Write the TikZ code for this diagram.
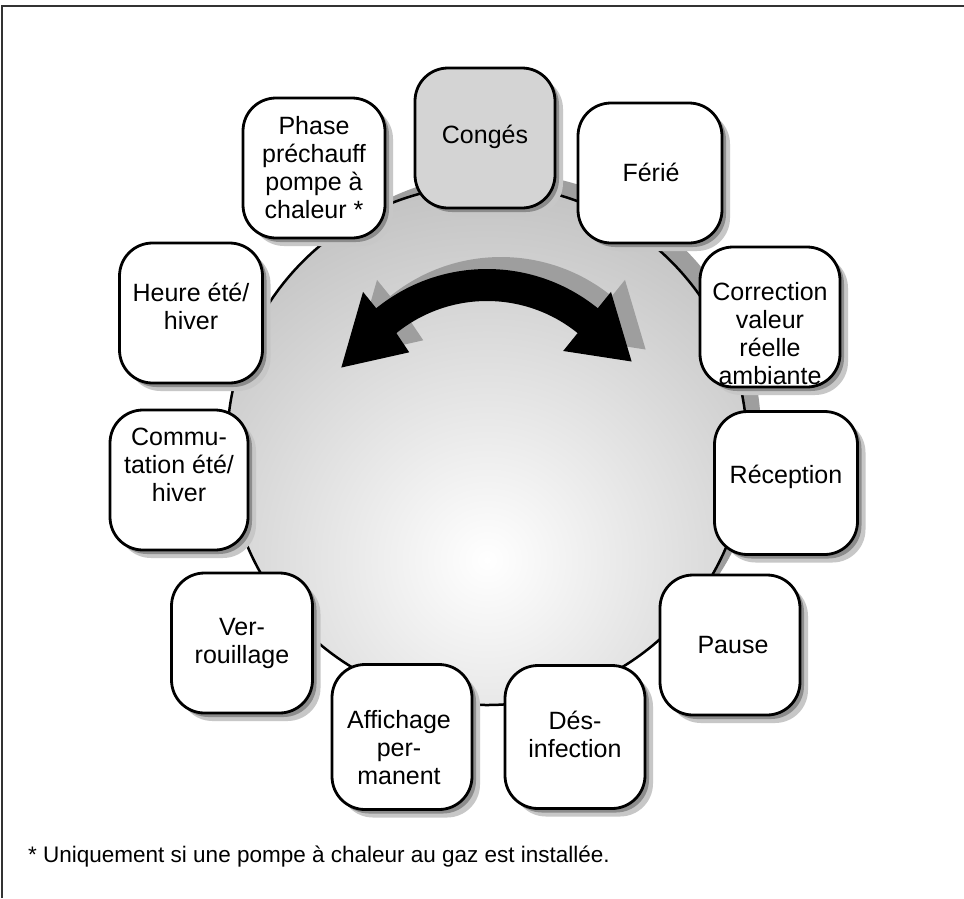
\documentclass[tikz,border=0pt]{standalone}
\usepackage{fontspec}
\setmainfont{Liberation Sans}
\usetikzlibrary{shadows}
\begin{document}
\begin{tikzpicture}[x=1pt,y=-1pt,
  box/.style={draw=black, line width=2.8pt, rounded corners=33pt, fill=white,
    inner sep=0pt, minimum width=140pt, minimum height=140pt,
    general shadow={fill=black!22, shadow xshift=8pt, shadow yshift=-8pt},
    general shadow={fill=black!45, shadow xshift=4pt, shadow yshift=-4pt}},
  graybox/.style={box, fill=black!17},
  lbl/.style={align=center, font=\fontsize{25}{28}\selectfont, inner sep=0pt},
  note/.style={font=\fontsize{22.5}{26}\selectfont, inner sep=0pt, anchor=base west},
]
\useasboundingbox (0,0) rectangle (964,898);
\fill[white] (0,0) rectangle (964,898);
\draw[line width=2pt, black!80] (2,898) -- (2,6) -- (964,6);

% circle shadow
\fill[black!38] (501,433) circle (260);
% circle with shading
\begin{scope}
  \clip (487,445) circle (260);
  \shade[inner color=white, outer color=black!25] (487,560) circle (400);
\end{scope}
\draw[line width=2.5pt] (487,445) circle (260);

% curved double arrow (shadow, then arrow)
\begin{scope}[shift={(501,433)}]
  \fill[black!38] (-129:144) -- (-130:121) -- (-152:165) -- (-129:197) -- (-129:176)
    arc[start angle=-129, end angle=-51, radius=176] -- (-51:197) -- (-30:167)
    -- (-51:121) -- (-51:144) arc[start angle=-51, end angle=-129, radius=144] -- cycle;
\end{scope}
\begin{scope}[shift={(487,445)}]
  \fill[black] (-129:144) -- (-130:121) -- (-152:165) -- (-129:197) -- (-129:176)
    arc[start angle=-129, end angle=-51, radius=176] -- (-51:197) -- (-30:167)
    -- (-51:121) -- (-51:144) arc[start angle=-51, end angle=-129, radius=144] -- cycle;
\end{scope}

% boxes
\node[graybox] (conges) at (485,138) {};
\node[box, minimum width=144pt] (ferie) at (650,173) {};
\node[box, minimum width=142pt] (phase) at (314,168) {};
\node[box, minimum width=143pt] (heure) at (191,313) {};
\node[box, minimum width=138pt] (commut) at (179,480) {};
\node[box] (correc) at (770,317) {};
\node[box, minimum width=143pt, minimum height=143pt] (recep) at (786,483) {};
\node[box, minimum width=141pt] (verr) at (242,643) {};
\node[box] (pause) at (730,645) {};
\node[box, minimum height=145pt] (affich) at (402,737) {};
\node[box, minimum height=143pt] (desinf) at (575,737) {};

% labels
\node[lbl] (tconges) at (485,137) {Congés};
\node[lbl] (tferie) at (651,172) {Férié};
\node[lbl] (tphase) at (314,168) {Phase\\préchauff\\pompe à\\chaleur *};
\node[lbl] (theure) at (191,306) {Heure été/\\hiver};
\node[lbl] (tcommut) at (179,465) {Commu-\\tation été/\\hiver};
\node[lbl] (tcorrec) at (770,334) {Correction\\valeur\\réelle\\ambiante};
\node[lbl] (trecep) at (786,477) {Réception};
\node[lbl] (tverr) at (242,643) {Ver-\\rouillage};
\node[lbl] (tpause) at (733,645) {Pause};
\node[lbl] (taffich) at (399,748) {Affichage\\per-\\manent};
\node[lbl] (tdesinf) at (575,734) {Dés-\\infection};

% footnote
\node[note] (fn) at (28,862) {* Uniquement si une pompe à chaleur au gaz est installée.};
\end{tikzpicture}
\end{document}
